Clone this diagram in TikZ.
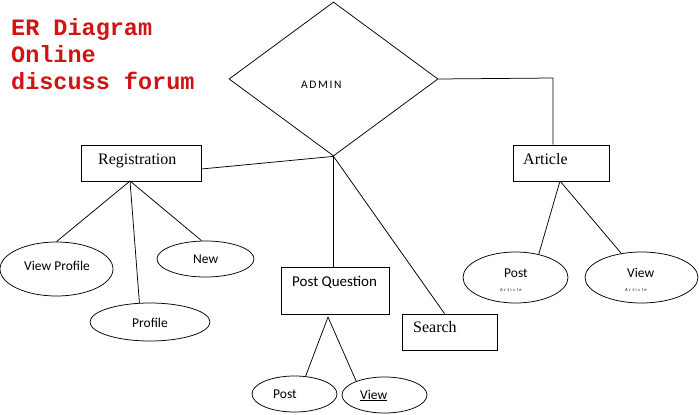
\documentclass[tikz,border=0pt]{standalone}
\usepackage{fontspec}
\setmainfont{Liberation Serif}
\newfontfamily\calib{Carlito}
\newfontfamily\monob{Liberation Mono}
\usetikzlibrary{shapes.geometric}
\definecolor{titlered}{HTML}{D01414}
\begin{document}
\begin{tikzpicture}[x=1pt,y=-1pt,
  ln/.style={draw=black,line width=0.75pt},
  boxnode/.style={draw=black,line width=0.75pt,inner sep=0pt,rectangle},
  ellnode/.style={draw=black,line width=0.75pt,inner sep=0pt,ellipse},
  serifl/.style={inner sep=0pt,anchor=base west,font=\fontsize{16}{16}\selectfont},
  sansl/.style={inner sep=0pt,anchor=base west,font=\calib\fontsize{13.5}{13.5}\selectfont},
  subl/.style={inner sep=0pt,anchor=base west,font=\calib\fontsize{4.5}{4.5}\selectfont},
  titlel/.style={inner sep=0pt,anchor=base west,text=titlered,font=\monob\bfseries\fontsize{23.5}{23.5}\selectfont}]
\useasboundingbox (0,0) rectangle (699,415);
\fill[white] (0,0) rectangle (699,415);
% title
\node[titlel] (t1) at (11,35) {ER Diagram};
\node[titlel] (t2) at (11,62) {Online};
\node[titlel] (t3) at (11,89) {discuss forum};
% admin diamond
\node[diamond,draw=black,line width=0.75pt,inner sep=0pt,minimum width=209pt,minimum height=154pt] (admin) at (333.5,79) {};
\node[inner sep=0pt,anchor=base west,font=\calib\fontsize{11.5}{11.5}\selectfont] (admint) at (301,88) {A\kern1.6pt D\kern1.6pt M\kern1.6pt I\kern1.6pt N};
% boxes
\node[boxnode,minimum width=120pt,minimum height=36pt] (reg) at (141,163) {};
\node[serifl] (regt) at (98,164) {Registration};
\node[boxnode,minimum width=96pt,minimum height=36pt] (art) at (561,163) {};
\node[serifl] (artt) at (523,164) {Article};
\node[boxnode,minimum width=108pt,minimum height=47pt] (pq) at (335,290.5) {};
\node[sansl,font=\calib\fontsize{15}{15}\selectfont] (pqt) at (292,286) {Post Question};
\node[boxnode,minimum width=95pt,minimum height=36pt] (search) at (449.5,332) {};
\node[serifl] (searcht) at (413,332) {Search};
% ellipses
\node[ellnode,minimum width=113pt,minimum height=54pt] (vp) at (56.5,269) {};
\node[sansl] (vpt) at (24,270) {View Profile};
\node[ellnode,minimum width=120pt,minimum height=38pt] (prof) at (150,322) {};
\node[sansl] (proft) at (132,327) {Profile};
\node[ellnode,minimum width=97pt,minimum height=36pt] (new) at (205.5,259) {};
\node[sansl] (newt) at (193,263) {New};
\node[ellnode,minimum width=105pt,minimum height=51pt] (ap) at (515.5,277.5) {};
\node[sansl] (apt) at (504,277) {Post};
\node[subl] (apsub) at (500,291) {A\kern1.6pt r\kern1.6pt t\kern1.6pt i\kern1.6pt c\kern1.6pt l\kern1.6pt e};
\node[ellnode,minimum width=113pt,minimum height=51pt] (av) at (641.5,277.5) {};
\node[sansl] (avt) at (627,277) {View};
\node[subl] (avsub) at (625,291) {A\kern1.6pt r\kern1.6pt t\kern1.6pt i\kern1.6pt c\kern1.6pt l\kern1.6pt e};
\node[ellnode,minimum width=85pt,minimum height=36pt] (pp) at (294.5,394) {};
\node[sansl] (ppt) at (273,398) {Post};
\node[ellnode,minimum width=85pt,minimum height=36pt] (pv) at (384.5,395) {};
\node[sansl] (pvt) at (360,399) {\underline{View}};
% helper coordinates
\coordinate (regb) at (130,181);
\coordinate (corner) at (553,78);
\coordinate (artb) at (560,181);
\coordinate (pqb) at (328,317);
% connectors
\draw[ln] ([yshift=-6pt]reg.east) -- (admin.south);
\draw[ln] (admin.south) -- (admin.south |- pq.north);
\draw[ln] (admin.south) -- ([xshift=-5pt]search.north);
\draw[ln] (admin.east) -- (corner) -- (corner |- art.north);
\draw[ln] (regb) -- (vp.north);
\draw[ln] (regb) -- (prof.119);
\draw[ln] (regb) -- ([xshift=-4pt]new.north);
\draw[ln] (artb) -- (ap.45);
\draw[ln] (artb) -- (av.130);
\draw[ln] (pqb) -- (pp.58);
\draw[ln] (pqb) -- (pv.154);
\end{tikzpicture}
\end{document}
